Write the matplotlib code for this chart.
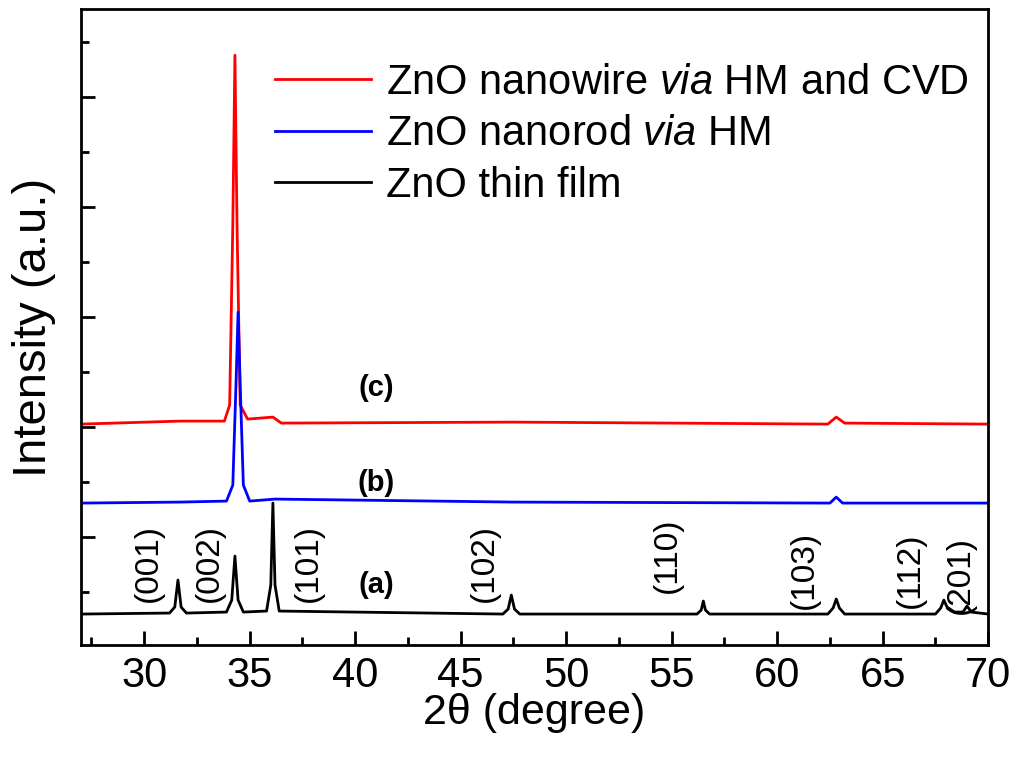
import matplotlib.pyplot as plt
from matplotlib.ticker import MultipleLocator, FixedLocator, NullFormatter

plt.rcParams['font.family'] = 'Liberation Sans'
plt.rcParams['mathtext.fontset'] = 'custom'
plt.rcParams['mathtext.it'] = 'Liberation Sans:italic'
plt.rcParams['mathtext.rm'] = 'Liberation Sans'

# ZnO thin film (a)
film_x = [27, 31.2, 31.45, 31.6, 31.75, 32.0, 33.9, 34.15, 34.3, 34.45, 34.7,
          35.8, 36.0, 36.1, 36.2, 36.4, 47.0, 47.25, 47.4, 47.55, 47.8,
          56.2, 56.4, 56.5, 56.6, 56.8, 62.4, 62.65, 62.8, 62.95, 63.2,
          67.5, 67.75, 67.9, 68.05, 68.4, 68.8, 69.0, 69.2, 70]
film_y = [31, 32, 38, 65, 38, 32, 33, 45, 89, 45, 33,
          34, 60, 142, 60, 34, 31, 36, 50, 36, 31,
          31, 35, 44, 35, 31, 31, 37, 46, 37, 31,
          31, 37, 45, 38, 33, 33, 39, 33, 31]

# ZnO nanorod via HM (b)
rod_x = [27, 31.7, 33.9, 34.2, 34.35, 34.45, 34.55, 34.7, 35.0, 36.2, 47.5, 62.5, 62.8, 63.1, 70]
rod_y = [142, 143, 144, 160, 260, 333, 260, 160, 144, 146, 143, 142, 148, 142, 142]

# ZnO nanowire via HM and CVD (c)
wire_x = [27, 31.7, 33.8, 34.05, 34.2, 34.3, 34.4, 34.55, 34.9, 36.1, 36.5, 47.5, 62.4, 62.8, 63.2, 70]
wire_y = [221, 224, 224, 240, 420, 590, 420, 240, 226, 228, 222, 223, 221, 228, 222, 221]

planes = ['(001)', '(002)', '(101)', '(102)', '(110)', '(103)', '(112)', '(201)']
plane_x = [30.2, 33.1, 37.8, 46.1, 54.8, 61.3, 66.3, 68.7]
plane_y = [82, 82, 82, 82, 90, 75, 75, 70]

fig = plt.figure(figsize=(10.24, 7.67), dpi=100)
ax = fig.add_axes([0.079, 0.159, 0.886, 0.829])
ax.plot(wire_x, wire_y, color='red', lw=2, label='ZnO nanowire $\\it{via}$ HM and CVD')
ax.plot(rod_x, rod_y, color='blue', lw=2, label='ZnO nanorod $\\it{via}$ HM')
ax.plot(film_x, film_y, color='black', lw=2, label='ZnO thin film')

for lab, px, py in zip(planes, plane_x, plane_y):
    ax.text(px, py, lab, rotation=90, ha='center', va='center', fontsize=24)
for lab, py in zip(['(a)', '(b)', '(c)'], [60, 162, 257]):
    ax.text(41.0, py, lab, ha='center', va='center', fontsize=21, fontweight='bold')

ax.set_xlim(27, 70)
ax.set_ylim(0, 636)
ax.xaxis.set_major_locator(MultipleLocator(5))
ax.xaxis.set_minor_locator(MultipleLocator(2.5))
ax.yaxis.set_major_locator(FixedLocator([108, 218, 328, 438, 548]))
ax.yaxis.set_minor_locator(FixedLocator([53, 163, 273, 383, 493, 603]))
ax.yaxis.set_major_formatter(NullFormatter())
ax.tick_params(which='both', direction='in', top=False, right=False, width=2)
ax.tick_params(which='major', length=10, labelsize=30, pad=8)
ax.tick_params(which='minor', length=6)
for s in ax.spines.values():
    s.set_linewidth(2)
ax.set_xlabel('2θ (degree)', fontsize=31, labelpad=-2)
ax.set_ylabel('Intensity (a.u.)', fontsize=34, labelpad=10)
ax.legend(loc='upper right', frameon=False, fontsize=30, handlelength=2.3,
          handletextpad=0.35, bbox_to_anchor=(1.02, 0.975), labelspacing=0.28)
fig.savefig('out.png', dpi=100)
